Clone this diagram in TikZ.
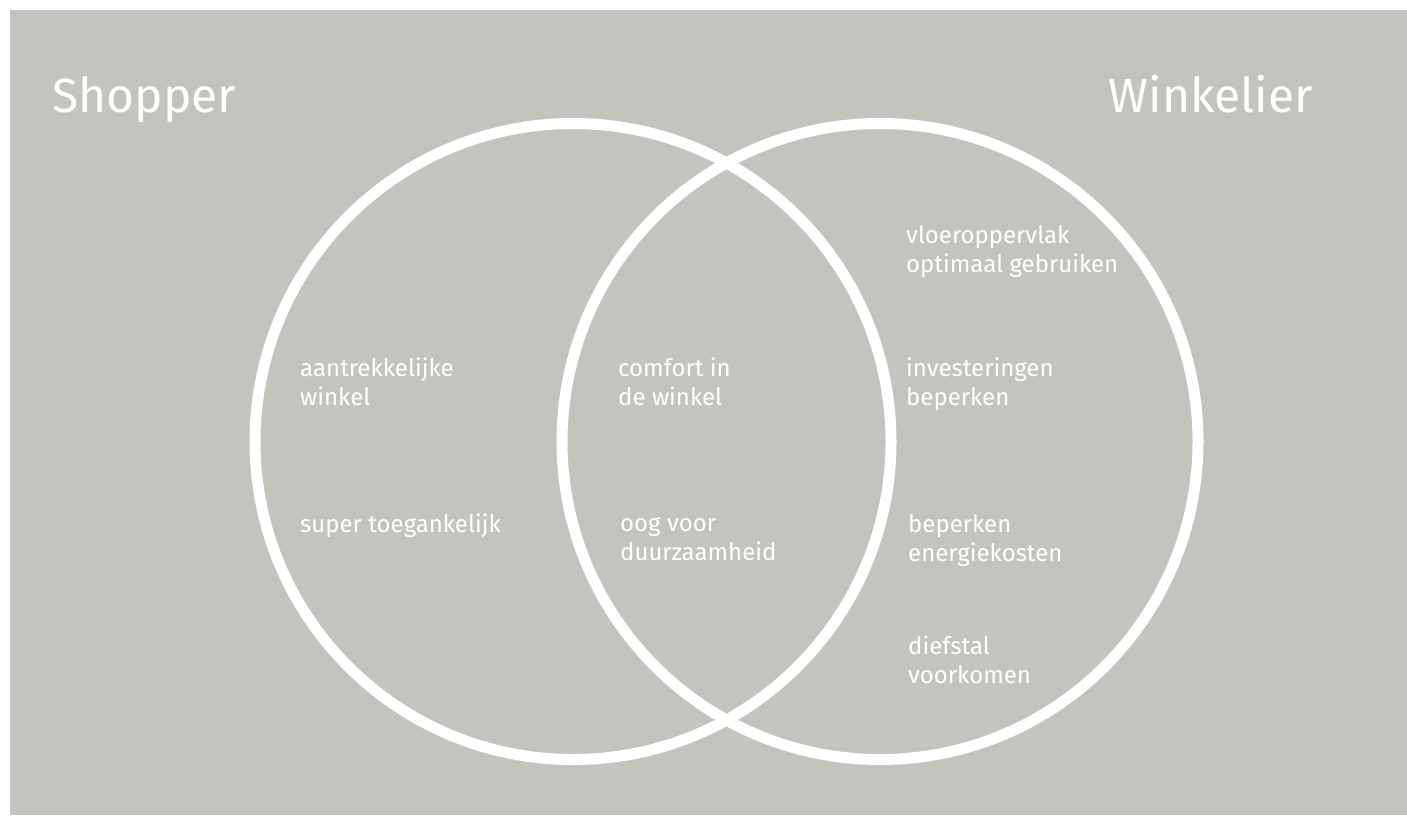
\documentclass[tikz,border=0pt]{standalone}
\usepackage{fontspec}
\setmainfont{Fira Sans}
\definecolor{bg}{RGB}{194,196,190}
\begin{document}
\begin{tikzpicture}[x=1pt,y=-1pt,
  ring/.style={draw=white,line width=11pt},
  title/.style={anchor=base west,inner sep=0pt,text=white,font=\fontsize{48}{58}\selectfont},
  lbl/.style={anchor=base west,inner sep=0pt,text=white,align=left,font=\fontsize{24}{29}\selectfont}]
\useasboundingbox (0,0) rectangle (1407,815);
\fill[white] (0,0) rectangle (1407,815);
\fill[bg] (10,10) rectangle (1407,815);
\node[ring,circle,minimum size=636pt,inner sep=0pt] (shopc) at (573,441.5) {};
\node[ring,circle,minimum size=636pt,inner sep=0pt] (winkc) at (880,441.5) {};
\node[title] (shop) at (52,112) {Shopper};
\node[title,anchor=base east] (wink) at (1313,112) {Winkelier};
\node[lbl] (l1) at (300,405) {aantrekkelijke\\winkel};
\node[lbl] (l2) at (300,532) {super toegankelijk};
\node[lbl] (m1) at (618,405) {comfort in\\de winkel};
\node[lbl] (m2) at (620,560) {oog voor\\duurzaamheid};
\node[lbl] (r1) at (906,272) {vloeroppervlak\\optimaal gebruiken};
\node[lbl] (r2) at (906,405) {investeringen\\beperken};
\node[lbl] (r3) at (908,561) {beperken\\energiekosten};
\node[lbl] (r4) at (908,683) {diefstal\\voorkomen};
\end{tikzpicture}
\end{document}
